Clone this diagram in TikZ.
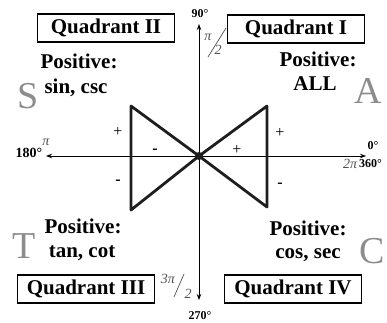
\documentclass[tikz,border=0pt]{standalone}
\usepackage{fontspec}
\setmainfont{Liberation Serif}
\usetikzlibrary{arrows.meta}
\definecolor{biggray}{RGB}{140,140,140}
\definecolor{pigray}{RGB}{80,80,80}
\definecolor{bowcol}{RGB}{30,30,30}
\begin{document}
\begin{tikzpicture}[x=1pt,y=-1pt,
  boxlab/.style={draw, line width=1.3pt, font=\fontsize{21}{21}\selectfont\bfseries, inner sep=0pt, minimum width=137pt, minimum height=28pt},
  postxt/.style={font=\fontsize{21}{21}\selectfont\bfseries, anchor=base, inner sep=0pt},
  bigl/.style={font=\fontsize{38}{38}\selectfont, text=biggray, anchor=base, inner sep=0pt},
  deg/.style={font=\fontsize{12}{12}\selectfont\bfseries, inner sep=0pt},
  pil/.style={font=\fontsize{14}{14}\selectfont\itshape, text=pigray, inner sep=0pt},
  slashline/.style={line width=0.7pt, draw=pigray},
  sgn/.style={font=\fontsize{16}{16}\selectfont, inner sep=0pt},
  axisline/.style={line width=0.9pt, {Stealth[length=6pt,width=4.5pt]}-{Stealth[length=6pt,width=4.5pt]}},
  bow/.style={line width=2.8pt, draw=bowcol, line join=round}
]
\useasboundingbox (0,0) rectangle (387,322);

% axes
\coordinate (O) at (199,156);
\coordinate (xl) at (46,156);
\coordinate (xr) at (366,156);
\coordinate (yt) at (199,24);
\coordinate (yb) at (199,300);
\draw[axisline] (xl) -- (xr);
\draw[axisline] (yt) -- (yb);

% bowtie
\coordinate (lt) at (131,106);
\coordinate (lb) at (131,210);
\coordinate (rt) at (267,106);
\coordinate (rb) at (267,207);
\draw[bow] (lt) -- (O) -- (lb) -- cycle;
\draw[bow] (rt) -- (O) -- (rb) -- cycle;
\fill[bowcol] (O) circle (4pt);

% signs
\node[sgn] (s1) at (118,132) {+};
\node[sgn] (s2) at (155,151) {\bfseries -};
\node[sgn] (s3) at (118,182) {\bfseries -};
\node[sgn] (s4) at (237,150) {+};
\node[sgn] (s5) at (280,133) {+};
\node[sgn] (s6) at (280,185) {\bfseries -};

% boxes
\node[boxlab] (q2) at (106,28) {Quadrant II};
\node[boxlab] (q1) at (296,29) {Quadrant I};
\node[boxlab] (q3) at (86,289) {Quadrant III};
\node[boxlab] (q4) at (293,289) {Quadrant IV};

% positive texts
\node[postxt] (p2) at (79,68) {Positive:};
\node[postxt] (f2) at (76,93) {sin, csc};
\node[bigl] (S) at (28,108) {S};
\node[postxt] (p1) at (318,66) {Positive:};
\node[postxt] (f1) at (315,90) {ALL};
\node[bigl] (A) at (368,103) {A};
\node[postxt] (p3) at (83,233) {Positive:};
\node[postxt] (f3) at (82,257) {tan, cot};
\node[bigl] (T) at (24,258) {T};
\node[postxt] (p4) at (308,235) {Positive:};
\node[postxt] (f4) at (308,258) {cos, sec};
\node[bigl] (C) at (372,263) {C};

% degree labels
\node[deg] (d90) at (200,14) {90°};
\node[deg] (d270) at (200,316) {270°};
\node[font=\fontsize{14}{14}\selectfont\bfseries, inner sep=0pt] (d180) at (29,153) {180°};
\node[deg] (d0) at (373,146) {0°};
\node[deg, anchor=west] (d360) at (359,164) {360°};

% pi labels
\node[pil] (pi180) at (46,142) {π};
\node[pil] (pi2pi) at (350,164) {2π};
\node[pil] (pih) at (208,37) {π};
\coordinate (slh1) at (208,57);
\coordinate (slh2) at (226,28);
\draw[slashline] (slh1) -- (slh2);
\node[pil] (twoh) at (218,50) {2};
\node[pil] (p3pi) at (168,279) {3π};
\coordinate (sl31) at (174,297);
\coordinate (sl32) at (184,274);
\draw[slashline] (sl31) -- (sl32);
\node[pil] (two3) at (188,294) {2};
\end{tikzpicture}
\end{document}
